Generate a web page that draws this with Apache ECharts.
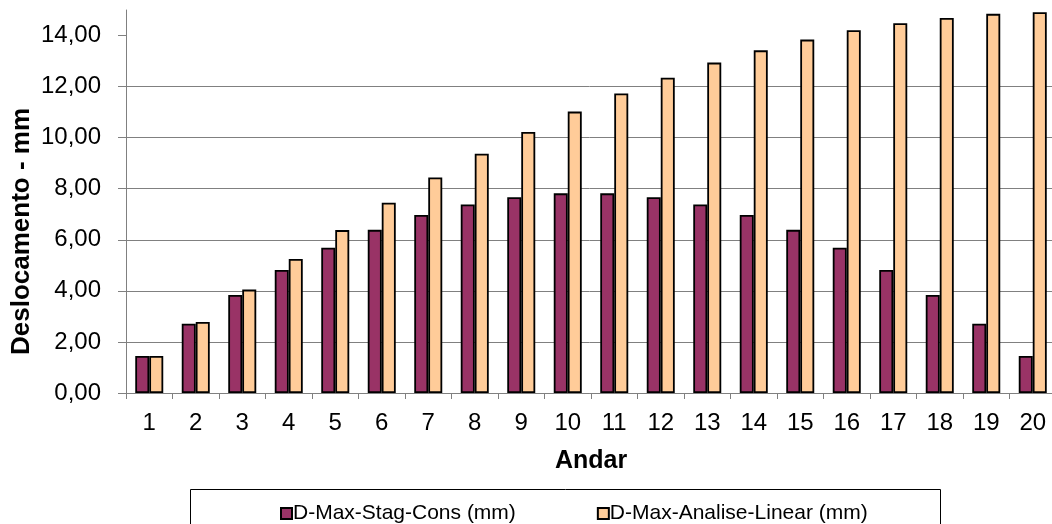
<!DOCTYPE html>
<html>
<head>
<meta charset="utf-8">
<script src="https://cdn.jsdelivr.net/npm/echarts@6/dist/echarts.min.js"></script>
<style>
  html, body { margin: 0; padding: 0; background: #fff; }
  #chart { width: 1052px; height: 524px; }
</style>
</head>
<body>
<div id="chart"></div>
<script>
// Floors (andares) on the category axis
const andares = ['1','2','3','4','5','6','7','8','9','10','11','12','13','14','15','16','17','18','19','20'];

// Maximum displacement per floor, mm
const dMaxStagCons = [1.45, 2.71, 3.84, 4.82, 5.69, 6.39, 6.97, 7.38, 7.67, 7.82,
                      7.82, 7.67, 7.38, 6.97, 6.39, 5.69, 4.82, 3.84, 2.71, 1.45];
const dMaxAnaliseLinear = [1.45, 2.78, 4.05, 5.25, 6.38, 7.45, 8.44, 9.37, 10.22, 11.02,
                           11.73, 12.35, 12.94, 13.42, 13.84, 14.21, 14.48, 14.69, 14.85, 14.91];

// Value-axis tick labels
const yTicks = [0, 2, 4, 6, 8, 10, 12, 14];

const FONT = '"Liberation Sans", Arial, sans-serif';
const chart = echarts.init(document.getElementById('chart'), null, { renderer: 'canvas' });

chart.setOption({
  animation: false,
  backgroundColor: '#ffffff',
  textStyle: { fontFamily: FONT, color: '#000' },
  grid: {
    left: 126, right: -4, top: 10, bottom: 131,
    containLabel: false, outerBoundsMode: 'none'
  },
  graphic: [{
    type: 'rect',
    left: 190, top: 489,
    shape: { width: 750, height: 40 },
    style: { fill: '#fff', stroke: '#000', lineWidth: 1 },
    z: 0
  }],
  legend: {
    left: 275, top: 498,
    itemWidth: 11, itemHeight: 11, itemGap: 81,
    icon: 'rect',
    textStyle: { fontFamily: FONT, fontSize: 21, color: '#000', padding: [0, 0, 0, -4] },
    z: 5
  },
  xAxis: {
    type: 'category',
    data: andares,
    name: 'Andar',
    nameLocation: 'middle',
    nameGap: 56,
    nameMoveOverlap: false,
    nameTextStyle: { fontFamily: FONT, fontSize: 25, fontWeight: 'bold', color: '#000' },
    axisLine: { lineStyle: { color: '#808080', width: 1 } },
    axisTick: { show: true, length: 6, lineStyle: { color: '#808080' } },
    axisLabel: { fontFamily: FONT, fontSize: 24, color: '#000', margin: 18 }
  },
  yAxis: {
    type: 'value',
    min: 0, max: 15, interval: 2,
    name: 'Deslocamento - mm',
    nameLocation: 'middle',
    nameGap: 91,
    nameMoveOverlap: false,
    nameTextStyle: {
      fontFamily: FONT, fontSize: 26, fontWeight: 'bold', color: '#000',
      padding: [0, 60, 0, 0]
    },
    axisLine: { show: true, lineStyle: { color: '#808080', width: 1 } },
    axisTick: { show: true, length: 8, inside: false, customValues: yTicks, lineStyle: { color: '#808080' } },
    splitLine: { show: true, showMaxLine: false, lineStyle: { color: '#808080', width: 1 } },
    axisLabel: {
      fontFamily: FONT, fontSize: 24, color: '#000', margin: 25,
      customValues: yTicks,
      formatter: v => v.toFixed(2).replace('.', ',')
    }
  },
  series: [
    {
      name: 'D-Max-Stag-Cons (mm)',
      type: 'bar',
      data: dMaxStagCons,
      barWidth: 14,
      barGap: '0%',
      itemStyle: { color: '#993366', borderColor: '#000', borderWidth: 1.8 }
    },
    {
      name: 'D-Max-Analise-Linear (mm)',
      type: 'bar',
      data: dMaxAnaliseLinear,
      barWidth: 14,
      itemStyle: { color: '#FFCC99', borderColor: '#000', borderWidth: 1.8 }
    }
  ]
});
</script>
</body>
</html>
